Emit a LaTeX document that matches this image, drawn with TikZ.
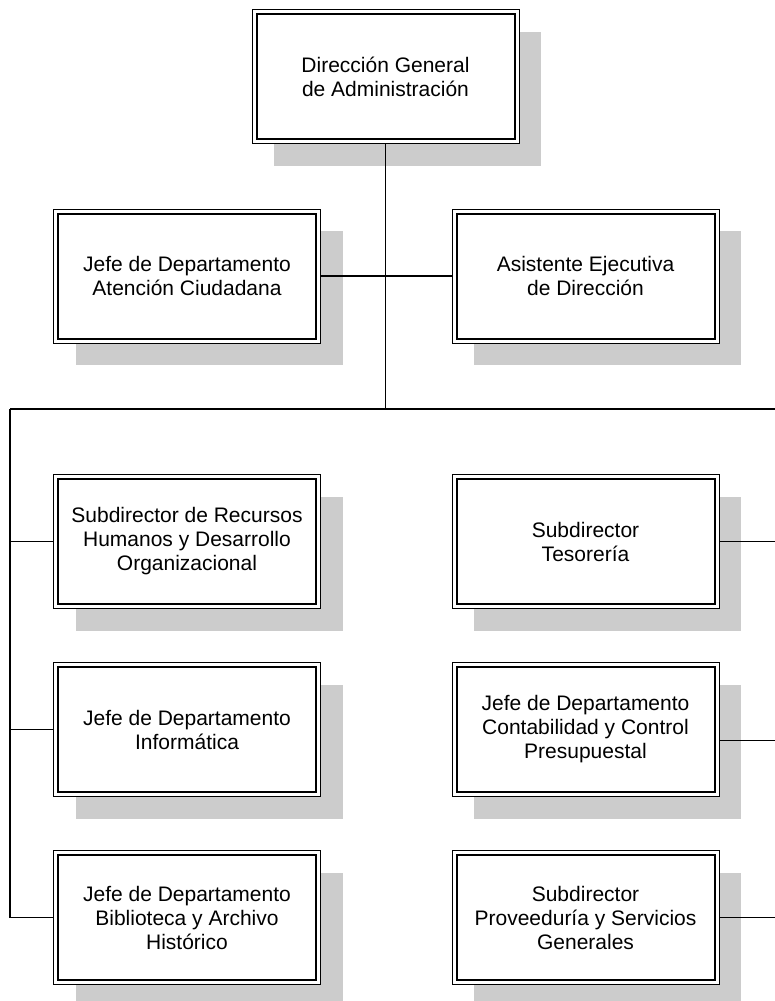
\documentclass[tikz,border=0pt]{standalone}
\usepackage{fontspec}
\setmainfont{Liberation Sans}
\usetikzlibrary{shadows}

\tikzset{
  cargo/.style={draw, line width=0.5pt, fill=white, align=center,
    minimum width=133.5pt, minimum height=67pt, inner sep=0pt,
    font=\fontsize{10.5}{12}\selectfont,
    drop shadow={shadow xshift=11pt, shadow yshift=-11pt, fill=black!20, opacity=1}},
  marco/.style={line width=1pt},
  enlace/.style={line width=0.8pt}
}

\begin{document}
\begin{tikzpicture}[x=0.5pt,y=-0.5pt]
  \useasboundingbox (0,0) rectangle (775,1001);

  % Direccion y staff
  \node[cargo] (dga) at (385.5,76.5) {Dirección General\\de Administración};
  \node[cargo] (atc) at (187,276) {Jefe de Departamento\\Atención Ciudadana};
  \node[cargo] (aed) at (585.5,276) {Asistente Ejecutiva\\de Dirección};

  % Columna izquierda
  \node[cargo] (rrhh) at (187,541.5) {Subdirector de Recursos\\Humanos y Desarrollo\\Organizacional};
  \node[cargo] (inf) at (187,729.5) {Jefe de Departamento\\Informática};
  \node[cargo] (bib) at (187,917.5) {Jefe de Departamento\\Biblioteca y Archivo\\Histórico};

  % Columna derecha
  \node[cargo] (tes) at (585.5,541.5) {Subdirector\\Tesorería};
  \node[cargo] (cont) at (585.5,729.5) {Jefe de Departamento\\Contabilidad y Control\\Presupuestal};
  \node[cargo] (prov) at (585.5,917.5) {Subdirector\\Proveeduría y Servicios\\Generales};

  % Marco interior
  \foreach \n in {dga,atc,aed,rrhh,inf,bib,tes,cont,prov}
    \draw[marco] ([shift={(5,5)}]\n.north west) rectangle ([shift={(-5,-5)}]\n.south east);

  % Lineas
  \coordinate (busL) at (10,409);
  \coordinate (busR) at (775,409);
  \coordinate (contR) at ([yshift=-5.5pt]cont.east);
  \draw[enlace] (dga.south) -- (dga.south |- busL);
  \draw[enlace] (atc.east) -- (aed.west);
  \draw[enlace] (busL) -- (busR);
  \draw[enlace] (busL) -- (busL |- bib.west) -- (bib.west);
  \draw[enlace] (busL |- rrhh.west) -- (rrhh.west);
  \draw[enlace] (busL |- inf.west) -- (inf.west);
  \draw[enlace] (tes.east) -- (tes.east -| busR);
  \draw[enlace] (contR) -- (contR -| busR);
  \draw[enlace] (prov.east) -- (prov.east -| busR);

\end{tikzpicture}
\end{document}
